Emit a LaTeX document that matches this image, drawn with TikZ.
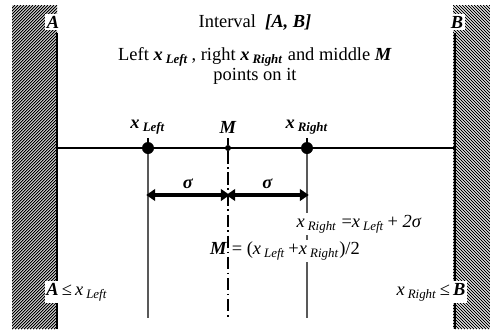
\documentclass[tikz,border=0pt]{standalone}
\usepackage{fontspec}
\setmainfont{Liberation Serif}
\usetikzlibrary{arrows.meta}
\newcommand{\bi}[1]{\textbf{\textit{#1}}}
\newcommand{\xsub}[1]{\bi{x}\,\textsubscript{\bi{#1}}}
\newcommand{\xs}[1]{\textit{x}\,\textsubscript{\textit{#1}}}

\begin{document}
\begin{tikzpicture}[x=0.02cm,y=-0.02cm,>={Triangle[length=5pt,width=6.5pt]}]
  \tikzstyle{bigdot}=[circle,fill=black,minimum size=0.24cm,inner sep=0pt]
  \tikzstyle{smalldot}=[circle,fill=black,minimum size=0.12cm,inner sep=0pt]
  \tikzstyle{lbl}=[font=\fontsize{10.5}{12}\selectfont,inner sep=1pt]
  \tikzstyle{boxlbl}=[lbl,fill=white]
  \useasboundingbox (0,0) rectangle (490,329);

  % hatched walls
  \begin{scope}
    \clip (12,5) rectangle (57,329);
    \foreach \i in {-330,-327,...,60}
      \draw[line width=0.6pt] (12+\i,329) -- ++(324,-324);
  \end{scope}
  \begin{scope}
    \clip (453,5) rectangle (490,329);
    \foreach \i in {-330,-327,...,60}
      \draw[line width=0.6pt] (453+\i,5) -- ++(324,324);
  \end{scope}
  \draw[line width=1.3pt] (57,33) -- (57,329);
  \draw[line width=1.3pt] (455,33) -- (455,329);
  \node[boxlbl] (A) at (53,22) {\bi{A}};
  \node[boxlbl] (B) at (457,22) {\bi{B}};

  % texts at top
  \node[lbl] (title) at (255,23) {Interval~~\bi{[A, B]}};
  \node[lbl] (line-1) at (255,57) {Left \xsub{Left}\,, right \xsub{Right} and middle \bi{M}};
  \node[lbl] (line-2) at (255,76) {points on it};

  % the interval
  \coordinate (wallL) at (57,148);
  \coordinate (wallR) at (455,148);
  \draw[line width=1pt] (wallL) -- (wallR);

  \foreach \name/\x/\size/\text in {xl/148/bigdot/\xsub{Left}, m/228/smalldot/\bi{M}, xr/307/bigdot/\xsub{Right}}
  {
    \node[\size] (\name) at (\x,148) {};
    \coordinate (\name-top) at (\x,138);
    \coordinate (\name-bot) at (\x,318);
    \node[lbl] (\name-lbl) at (\x,127) {\text};
    \draw[line width=0.8pt] (\name) -- (\name-top);
  }

  \foreach \name in {xl,xr}
    { \draw[gray!70!black,line width=0.7pt] (\name) -- (\name-bot); }

  % sigma arrows
  \coordinate (s-1) at (148,195);
  \coordinate (s-2) at (228,195);
  \coordinate (s-3) at (307,195);
  \foreach \from/\to in {1/2,2/3}
  {
    \draw[<->,line width=2.8pt,shorten >=-1pt,shorten <=-1pt] (s-\from) -- node[lbl,above=1pt] {\bi{σ}} (s-\to);
  }

  % formulas
  \node[boxlbl] (rel) at (359,224) {\xs{Right} =\xs{Left}\,+ \textit{2σ}};
  \node[boxlbl] (mid) at (285,251) {\bi{M} = (\xs{Left}\,+\xs{Right})/2};
  \draw[dash pattern=on 7pt off 2pt on 1pt off 2pt,line width=1pt] (m) -- (m-bot);

  \node[boxlbl] (condA) at (77,292) {\bi{A}\,≤\,\xs{Left}};
  \node[boxlbl] (condB) at (431,292) {\xs{Right}\,≤\,\bi{B}};
\end{tikzpicture}
\end{document}
